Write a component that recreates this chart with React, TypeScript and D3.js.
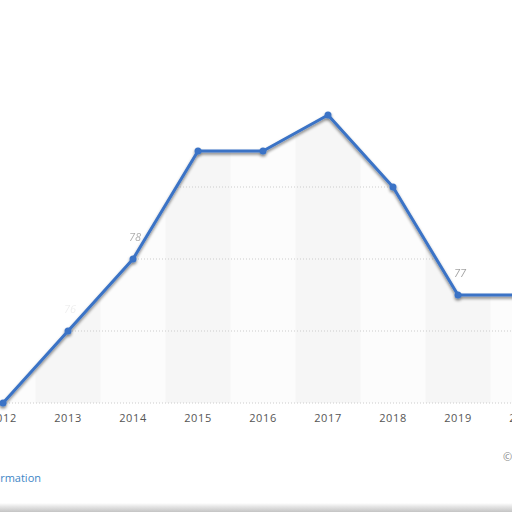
import * as d3 from "d3";

const years = ["2012", "2013", "2014", "2015", "2016", "2017", "2018", "2019", "2020"];
const values = [74, 76, 78, 81, 81, 82, 80, 77, 77];
const gridValues = [76, 78, 80, 82];
// data labels that are still readable in the faded picture
const labelYears = ["2013", "2014", "2019"];
const labelOpacity = [0.08, 0.4, 0.45];

export default function App() {
  const width = 512;
  const height = 512;
  const baseY = 403;

  const x = d3.scalePoint(years, [3, 523]);
  const y = d3.scaleLinear([74, 84], [baseY, 43]);
  const step = x.step();

  const pts = years.map((yr, i) => ({ yr, v: values[i] }));

  const line = d3.line<any>().x(d => x(d.yr)!).y(d => y(d.v));
  const area = d3.area<any>().x(d => x(d.yr)!).y0(baseY).y1(d => y(d.v));

  return (
    <svg width={width} height={height} style={{ position: "absolute", left: 0, top: 0 }}
      fontFamily="'Open Sans', sans-serif">
      <defs>
        <clipPath id="under">
          <path d={area(pts)!} />
        </clipPath>
        <filter id="shadow" x="-10%" y="-10%" width="120%" height="130%">
          <feGaussianBlur in="SourceAlpha" stdDeviation="1.6" />
          <feOffset dx="0" dy="1.5" result="b" />
          <feComponentTransfer><feFuncA type="linear" slope="0.5" /></feComponentTransfer>
          <feMerge><feMergeNode /><feMergeNode in="SourceGraphic" /></feMerge>
        </filter>
        <linearGradient id="edge" x1="0" y1="0" x2="0" y2="1">
          <stop offset="0" stopColor="#ffffff" />
          <stop offset="0.35" stopColor="#e8e8e8" />
          <stop offset="1" stopColor="#c4c4c4" />
        </linearGradient>
      </defs>
      <rect width={width} height={height} fill="#fff" />

      {/* area under the line with alternating columns */}
      <g clipPath="url(#under)">
        <rect x={0} y={0} width={width} height={baseY} fill="#fcfcfc" />
        {years.filter((_, i) => i % 2 === 1).map(yr => (
          <rect key={yr} x={x(yr)! - step / 2} y={0} width={step} height={baseY} fill="#f6f6f6" />
        ))}
        {gridValues.map(v => (
          <line key={v} x1={0} x2={width} y1={y(v)} y2={y(v)}
            stroke="#cccccc" strokeWidth={1} strokeDasharray="1,2" />
        ))}
      </g>
      <line x1={0} x2={width} y1={baseY} y2={baseY} stroke="#cccccc" strokeDasharray="1,2" />

      <g filter="url(#shadow)">
        <path d={line(pts)!} fill="none" stroke="#3a73c6" strokeWidth={3} strokeLinejoin="round" />
        {pts.map(d => (
          <circle key={d.yr} cx={x(d.yr)} cy={y(d.v)} r={3.5} fill="#3a73c6" />
        ))}
      </g>

      {labelYears.map((yr, i) => {
        const v = values[years.indexOf(yr)];
        return (
          <text key={yr} x={x(yr)! + 2} y={y(v) - 18} textAnchor="middle" fontSize={11}
            fontStyle="italic" fill="#333" opacity={labelOpacity[i]}>{v}</text>
        );
      })}

      {years.map(yr => (
        <text key={yr} x={x(yr)} y={422} textAnchor="middle" fontSize={11}
          fill="#555" letterSpacing={0.6}>{yr}</text>
      ))}

      <text x={41} y={482} textAnchor="end" fontSize={11} fill="#3d86c6">Additional Information</text>
      <text x={503} y={461} fontSize={11} fill="#888">©</text>

      <rect x={0} y={503} width={width} height={9} fill="url(#edge)" />
    </svg>
  );
}
